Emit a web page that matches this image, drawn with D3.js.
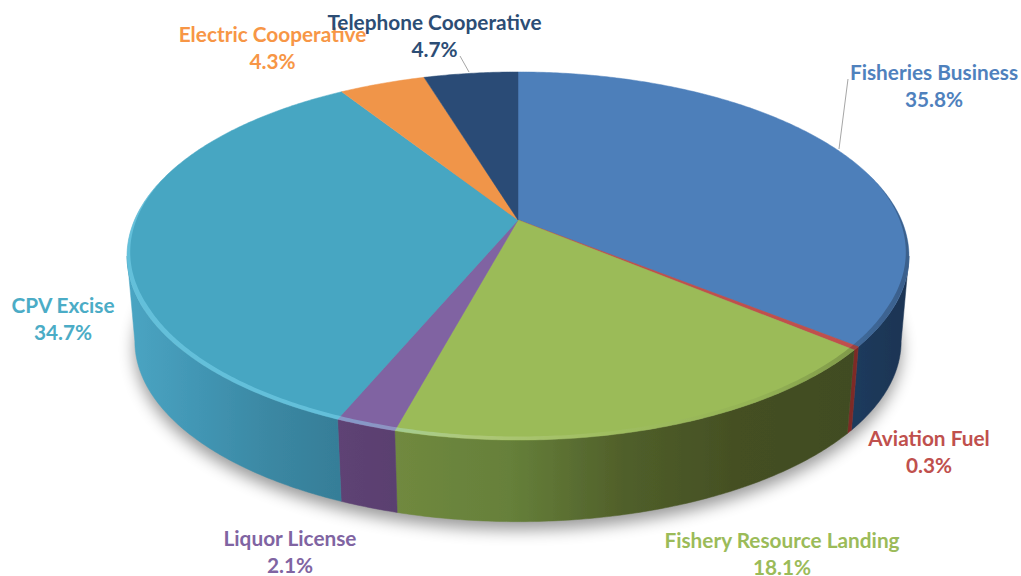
<!DOCTYPE html>
<html>
<head>
<meta charset="utf-8">
<script src="https://cdn.jsdelivr.net/npm/d3@7"></script>
<style>
  html, body { margin: 0; padding: 0; background: #fff; }
  svg { display: block; }
  text { font-family: Lato, "Open Sans", sans-serif; font-weight: 700; font-size: 20.8px; text-anchor: middle; }
</style>
</head>
<body>
<svg id="chart" width="1021" height="576"></svg>
<script>
// --- Data ------------------------------------------------------------
const categories = ['Fisheries Business', 'Aviation Fuel', 'Fishery Resource Landing', 'Liquor License', 'CPV Excise', 'Electric Cooperative', 'Telephone Cooperative'];
const shares = [35.8, 0.3, 18.1, 2.1, 34.7, 4.3, 4.7];

// --- Styles and label placement ---------------------------------------
const topColors = ['#4d7fba', '#c0504d', '#9bbb59', '#8064a2', '#47a6c2', '#f0954a', '#2b4c76'];
const labelColors = ['#4f81bd', '#c0504d', '#9bbb59', '#8064a2', '#4bacc6', '#f79646', '#2c4d75'];
// side wall colour stops, left to right across the wall
const wallStops = [
  ['#1f3a5c', '#1c3453'],
  ['#7e2a28', '#7e2a28'],
  ['#70893f', '#66803a', '#505f2a', '#444f23', '#414c20'],
  ['#5e4374', '#5a3f70'],
  ['#4aa5c3', '#4296b4', '#3b88a3', '#367e98'],
  ['#c0753a', '#c0753a'],
  ['#203a5a', '#203a5a'],
];
const labelX = [934, 929, 782, 290, 63, 272.5, 434.5];
const labelY = [80, 446, 548, 546, 313, 42, 30];
const valueGap = 27;
const leaders = [
  { from: [848, 79], to: [839, 149] },
  { from: [460, 56], to: [469, 72] },
];

// --- Perspective of the disc -------------------------------------------
const cx = 518, cy = 220;
const scaleX = 383.4, scaleY = 177, tilt = 0.1957;
const wallDepth = 86, bottomShrink = 0.98;

// angle runs clockwise from the back of the pie; level 0 = top face, 1 = bottom
function project(angle, radius = 1, level = 0) {
  const x = radius * Math.sin(angle);
  const y = radius * Math.cos(angle);
  const w = 1 + tilt * y;
  const s = level ? bottomShrink : 1;
  return [cx + s * scaleX * x / w, cy - s * scaleY * y / w + level * wallDepth];
}

function arcSamples(a0, a1, radius = 1, level = 0) {
  const n = Math.max(2, Math.ceil(Math.abs(a1 - a0) / 0.01));
  return d3.range(n + 1).map(i => project(a0 + (a1 - a0) * i / n, radius, level));
}

const line = d3.line();
const closed = pts => line(pts) + 'Z';

const slices = d3.pie().value(d => d).sort(null)(shares);

// the silhouette of the disc sits where cos(angle) = -tilt
const wallStart = Math.acos(-tilt);
const wallEnd = 2 * Math.PI - wallStart;

const svg = d3.select('#chart');
const defs = svg.append('defs');

defs.append('filter').attr('id', 'shadowBlur')
  .attr('x', '-10%').attr('y', '-10%').attr('width', '120%').attr('height', '130%')
  .append('feGaussianBlur').attr('stdDeviation', 8);

defs.append('filter').attr('id', 'soft')
  .append('feGaussianBlur').attr('stdDeviation', 0.6);

const xExtent = d3.scaleLinear().domain([0, 1]).range([127, 909]);

wallStops.forEach((stops, i) => {
  const s = slices[i];
  const a0 = Math.max(s.startAngle, wallStart), a1 = Math.min(s.endAngle, wallEnd);
  const xs = a1 > a0 ? [project(a0)[0], project(a1)[0]] : [xExtent(0), xExtent(1)];
  const grad = defs.append('linearGradient').attr('id', `wall${i}`)
    .attr('gradientUnits', 'userSpaceOnUse')
    .attr('x1', d3.min(xs)).attr('x2', d3.max(xs)).attr('y1', 0).attr('y2', 0);
  stops.forEach((c, j) => {
    grad.append('stop').attr('offset', j / (stops.length - 1)).attr('stop-color', c);
  });
});

// bevel along the front rim: light on the left, dark at the right
const bevel = defs.append('linearGradient').attr('id', 'bevel')
  .attr('gradientUnits', 'userSpaceOnUse')
  .attr('x1', xExtent(0)).attr('x2', xExtent(1)).attr('y1', 0).attr('y2', 0);
[[0, '#8fe6ff', 0.4], [0.3, '#8fe6ff', 0.4], [0.45, '#ffffff', 0.18], [0.62, '#ffffff', 0.04], [0.8, '#000000', 0.04], [1, '#000000', 0.25]]
  .forEach(d => bevel.append('stop').attr('offset', d[0]).attr('stop-color', d[1]).attr('stop-opacity', d[2]));

// --- Shadow --------------------------------------------------------------
svg.append('path')
  .attr('d', closed(arcSamples(0, 2 * Math.PI, 1, 1)))
  .attr('transform', 'translate(0,8)')
  .attr('fill', '#000')
  .attr('opacity', 0.4)
  .attr('filter', 'url(#shadowBlur)');

const pie = svg.append('g').attr('filter', 'url(#soft)');

// --- Side walls ----------------------------------------------------------
pie.selectAll('path.wall')
  .data(slices.filter(s => s.endAngle > wallStart && s.startAngle < wallEnd))
  .join('path')
  .attr('class', 'wall')
  .attr('d', s => {
    const a0 = Math.max(s.startAngle, wallStart), a1 = Math.min(s.endAngle, wallEnd);
    return closed(arcSamples(a0, a1, 1, 0).concat(arcSamples(a1, a0, 1, 1)));
  })
  .attr('fill', s => `url(#wall${s.index})`)
  .attr('stroke', s => `url(#wall${s.index})`)
  .attr('stroke-width', 0.5);

// --- Top face ------------------------------------------------------------
pie.selectAll('path.top')
  .data(slices)
  .join('path')
  .attr('class', 'top')
  .attr('d', s => closed([[cx, cy]].concat(arcSamples(s.startAngle, s.endAngle))))
  .attr('fill', s => topColors[s.index])
  .attr('stroke', s => topColors[s.index])
  .attr('stroke-width', 0.5);

// rim strip over the top face, tapered to nothing at both ends
const rimFrom = wallStart - 0.45, rimTo = wallEnd + 0.45, rimSteps = 400;
const rimInner = d3.range(rimSteps + 1).map(i => {
  const t = i / rimSteps;
  return project(rimFrom + (rimTo - rimFrom) * t, 1 - 0.013 * Math.min(1, 5 * Math.min(t, 1 - t)));
});
pie.append('path')
  .attr('d', closed(arcSamples(rimFrom, rimTo).concat(rimInner.reverse())))
  .attr('fill', 'url(#bevel)');

// --- Labels --------------------------------------------------------------
svg.selectAll('line.leader')
  .data(leaders)
  .join('line')
  .attr('class', 'leader')
  .attr('x1', d => d.from[0]).attr('y1', d => d.from[1])
  .attr('x2', d => d.to[0]).attr('y2', d => d.to[1])
  .attr('stroke', '#a6a6a6')
  .attr('stroke-width', 1);

const labels = svg.selectAll('g.label')
  .data(categories)
  .join('g')
  .attr('class', 'label')
  .attr('fill', (d, i) => labelColors[i]);

labels.append('text')
  .attr('x', (d, i) => labelX[i])
  .attr('y', (d, i) => labelY[i])
  .text(d => d);

labels.append('text')
  .attr('x', (d, i) => labelX[i])
  .attr('y', (d, i) => labelY[i] + valueGap)
  .text((d, i) => `${shares[i].toFixed(1)}%`);
</script>
</body>
</html>
